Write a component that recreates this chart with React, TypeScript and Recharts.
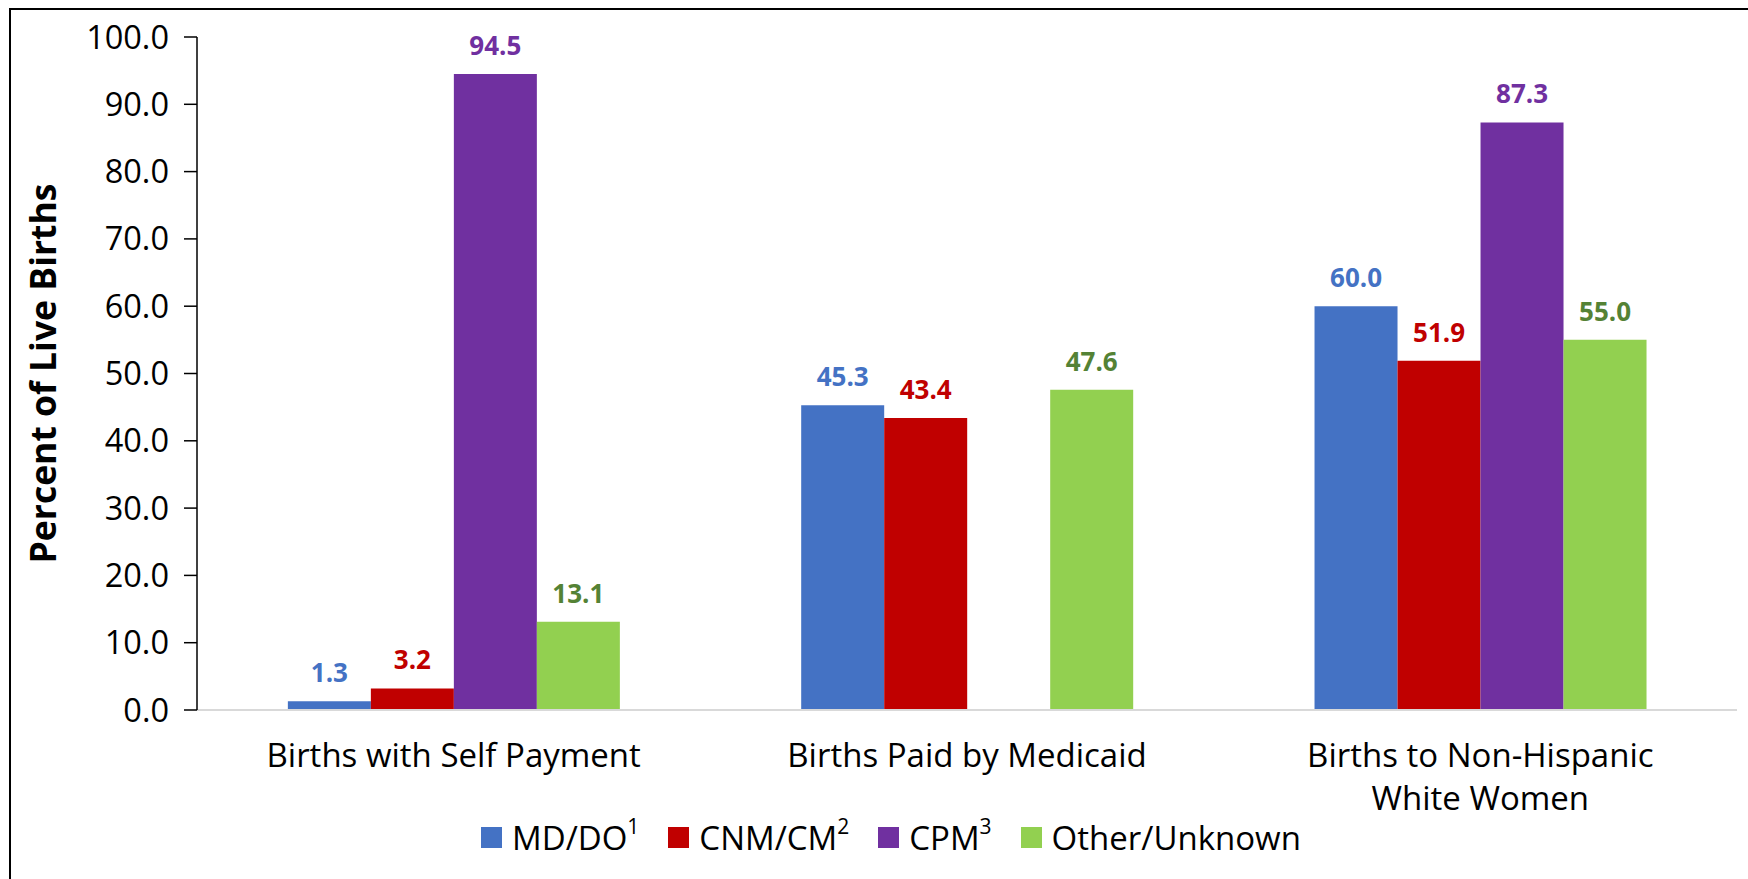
import React from "react";
import { BarChart, Bar, XAxis, YAxis, LabelList } from "recharts";

const categories = [
  "Births with Self Payment",
  "Births Paid by Medicaid",
  "Births to Non-Hispanic White Women",
];
const mdDo = [1.3, 45.3, 60.0];
const cnmCm = [3.2, 43.4, 51.9];
const cpm = [94.5, 0.0, 87.3];
const otherUnknown = [13.1, 47.6, 55.0];
const yTicks = [0, 10, 20, 30, 40, 50, 60, 70, 80, 90, 100];

const seriesNames = ["MD/DO", "CNM/CM", "CPM", "Other/Unknown"];
const seriesSup = ["1", "2", "3", ""];
const seriesKeys = ["mdDo", "cnmCm", "cpm", "other"];
const barColors = ["#4472C4", "#C00000", "#7030A0", "#92D050"];
const labelColors = ["#4472C4", "#C00000", "#7030A0", "#548235"];

const data = categories.map((c, i) => ({
  category: c,
  mdDo: mdDo[i],
  cnmCm: cnmCm[i],
  cpm: cpm[i],
  other: otherUnknown[i],
}));

const FONT = "'Open Sans', Lato, sans-serif";

function wrap(text: string, max: number): string[] {
  const words = text.split(" ");
  const lines: string[] = [];
  let cur = "";
  for (const w of words) {
    const next = cur ? cur + " " + w : w;
    if (next.length > max && cur) {
      lines.push(cur);
      cur = w;
    } else {
      cur = next;
    }
  }
  if (cur) lines.push(cur);
  return lines;
}

const XTick = (props: any) => {
  const { x, y, payload } = props;
  const lines = wrap(String(payload.value), 24);
  return (
    <text x={x} y={y} textAnchor="middle" fill="#000" fontSize={33} fontFamily={FONT}>
      {lines.map((l, i) => (
        <tspan key={i} x={x} y={y + 57 + i * 43}>
          {l}
        </tspan>
      ))}
    </text>
  );
};

export default function App() {
  return (
    <div
      style={{
        position: "absolute",
        left: 0,
        top: 0,
        width: 1748,
        height: 879,
        overflow: "hidden",
        background: "#fff",
        fontFamily: FONT,
      }}
    >
      <div
        style={{
          position: "absolute",
          left: 9,
          top: 8,
          width: 1800,
          height: 900,
          borderTop: "2px solid #000",
          borderLeft: "2px solid #000",
        }}
      />
      <div style={{ position: "absolute", left: 0, top: 0 }}>
        <BarChart
          width={1748}
          height={879}
          data={data}
          margin={{ top: 37, right: 11, left: 0, bottom: 0 }}
          barCategoryGap="17.7%"
          barGap={0}
        >
          <XAxis
            dataKey="category"
            height={169}
            tickLine={false}
            tickSize={0}
            tickMargin={0}
            axisLine={{ stroke: "#D9D9D9", strokeWidth: 2 }}
            tick={<XTick />}
            interval={0}
          />
          <YAxis
            width={197}
            domain={[0, 100]}
            ticks={yTicks}
            tickFormatter={(v: number) => v.toFixed(1)}
            tickSize={13}
            tickMargin={15}
            axisLine={{ stroke: "#000", strokeWidth: 1.5 }}
            tickLine={{ stroke: "#000", strokeWidth: 1.5 }}
            tick={{ fill: "#000", fontSize: 32.5, fontFamily: FONT }}
            label={{
              value: "Percent of Live Births",
              angle: -90,
              position: "insideLeft",
              dx: 38,
              dy: 0,
              style: {
                textAnchor: "middle",
                fontSize: 35.5,
                fontWeight: 700,
                fill: "#000",
                fontFamily: FONT,
              },
            }}
          />
          {seriesKeys.map((k, i) => (
            <Bar key={k} dataKey={k} fill={barColors[i]} isAnimationActive={false}>
              <LabelList
                dataKey={k}
                position="top"
                offset={19}
                formatter={(v: any) => Number(v).toFixed(1)}
                style={{
                  fill: labelColors[i],
                  fontSize: 26,
                  fontWeight: 700,
                  fontFamily: FONT,
                }}
              />
            </Bar>
          ))}
        </BarChart>
      </div>
      <div
        style={{
          position: "absolute",
          left: 481,
          top: 817,
          height: 40,
          display: "flex",
          alignItems: "center",
          fontSize: 33,
          color: "#000",
          fontFamily: FONT,
          whiteSpace: "nowrap",
        }}
      >
        {seriesNames.map((n, i) => (
          <div
            key={n}
            style={{ display: "flex", alignItems: "center", marginRight: i < 3 ? 29 : 0 }}
          >
            <div style={{ width: 21, height: 21, background: barColors[i], marginRight: 10 }} />
            <span>
              {n}
              {seriesSup[i] && (
                <span style={{ fontSize: 21, verticalAlign: "top", position: "relative", top: -3 }}>
                  {seriesSup[i]}
                </span>
              )}
            </span>
          </div>
        ))}
      </div>
    </div>
  );
}
